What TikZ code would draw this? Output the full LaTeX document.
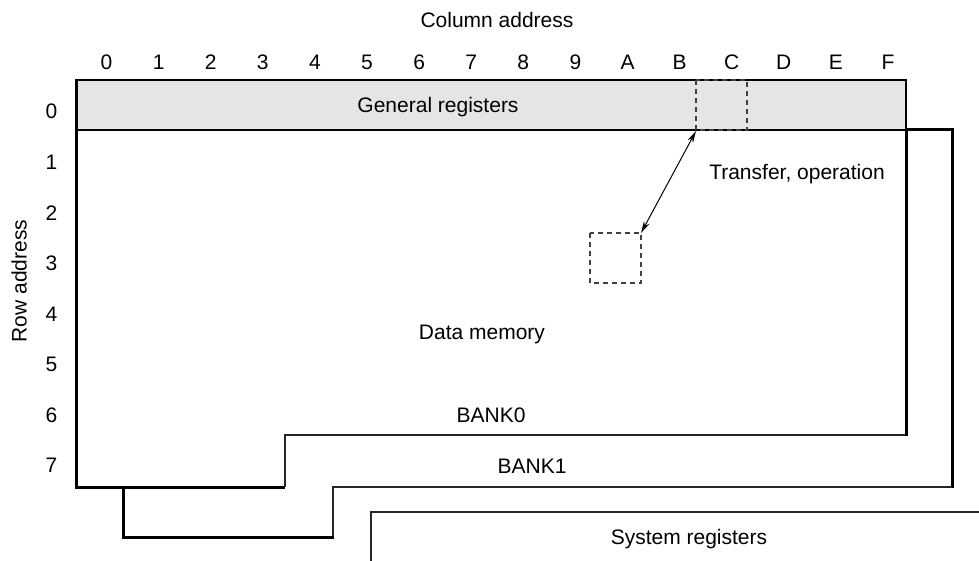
\documentclass[tikz,border=0pt]{standalone}
\usepackage{fontspec}
\setmainfont{Liberation Sans}
\usetikzlibrary{arrows.meta}
\begin{document}
\begin{tikzpicture}[x=1pt,y=-1pt,
  every node/.style={font=\fontsize{21}{25}\selectfont, inner sep=0pt},
  thinline/.style={line width=1.2pt, black!85},
  thickline/.style={line width=3pt, black},
  dashline/.style={line width=1.2pt, black!75, dash pattern=on 5pt off 4pt},
  arrowline/.style={line width=1pt, {Stealth[length=12pt,width=6pt]}-{Stealth[length=12pt,width=6pt]}}
]
\useasboundingbox (0,0) rectangle (979,561);
% general registers box
\fill[black!10] (76,80) rectangle (906,130);
\draw[line width=1.8pt] (76,80) -- (906,80) -- (906,130);
\draw[line width=1.4pt] (76,130) -- (906,130);
% dashed C box
\draw[dashline] (696,80) rectangle (747,130);
% bank0 outline
\draw[thickline] (76,79) -- (76,487) -- (285,487);
\draw[thinline] (285,487) -- (285,435) -- (906,435);
\draw[thickline] (906,436) -- (906,129);
% bank1 outline
\draw[thickline] (906,130) -- (952,130) -- (952,488);
\draw[thinline] (952,487) -- (333,487) -- (333,537);
\draw[thickline] (334,537) -- (123,537) -- (123,486);
% system registers
\draw[thinline] (979,512) -- (371,512) -- (371,561);
% dashed data square
\draw[dashline] (590,233) rectangle (641,283);
\coordinate (cbox) at (696,131);
\coordinate (dbox) at (641,233);
\draw[arrowline] (cbox) -- (dbox);
% labels
\node (coltitle) at (497,20) {Column address};
\foreach \c [count=\i from 0] in {0,1,2,3,4,5,6,7,8,9,A,B,C,D,E,F}{
  \node (col\i) at ({106.5+52.1*\i},62) {\c};
}
\foreach \r in {0,...,7}{
  \node (row\r) at (51.5,{111.5+50.6*\r}) {\r};
}
\node[rotate=90] (rowtitle) at (19,281) {Row address};
\node (genreg) at (438,107) {General registers};
\node (transfer) at (797,174) {Transfer, operation};
\node (datamem) at (482,334) {Data memory};
\node (bank0) at (491,415) {BANK0};
\node (bank1) at (532,466) {BANK1};
\node (sysreg) at (689,539) {System registers};
\end{tikzpicture}
\end{document}
